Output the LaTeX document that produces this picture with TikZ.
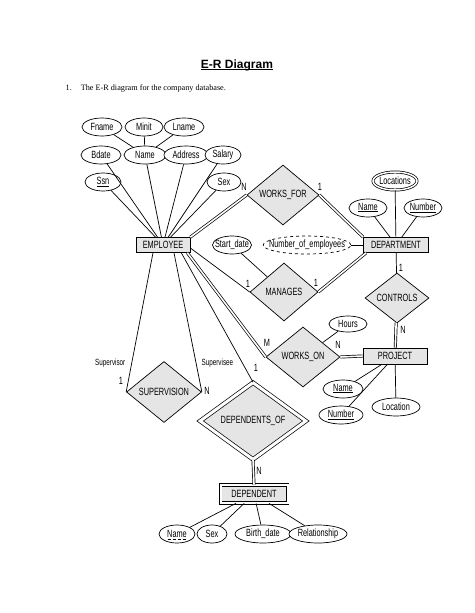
\documentclass[tikz,border=0pt]{standalone}
\usepackage{fontspec}
\setmainfont{Liberation Serif}
\newfontfamily\erfont[FakeStretch=0.7]{Liberation Sans}
\newfontfamily\titlefont{Liberation Sans}
\usetikzlibrary{shapes.geometric}
\definecolor{boxgray}{gray}{0.9}
\newcommand{\keyul}[2][1pt]{\setbox0\hbox{#2}\rlap{\rule[-1.7pt]{\wd0}{#1}}\box0}

\begin{document}
\begin{tikzpicture}[x=1pt,y=-1pt,line width=0.7pt,
  font=\erfont\fontsize{10.5}{12}\selectfont,
  entity/.style={draw,fill=boxgray,rectangle,inner sep=0pt,minimum height=15pt},
  weakentity/.style={entity,double,double distance=2pt},
  relation/.style={draw,fill=boxgray,diamond,inner sep=0pt,aspect=1.2},
  weakrelation/.style={relation,double,double distance=3pt},
  attr/.style={draw,fill=white,ellipse,inner xsep=-7pt,inner ysep=0pt,minimum height=18pt},
  total/.style={double,double distance=1.6pt},
  card/.style={inner sep=0pt}]

\useasboundingbox (0,0) rectangle (474,613);

%%%%%%%%%%%%%%%%%%%%%%%%%%%%%%%%%%%%%%

\node (title) at (237,65) {\titlefont\bfseries\fontsize{12}{14}\selectfont\keyul[1.1pt]{E-R Diagram}};
\node[anchor=west] (intro) at (62,88) {\rmfamily\fontsize{8.2}{10}\selectfont 1.\hspace{9pt}The E-R diagram for the company database.};

%%%%%%%%%%%%%%%%%%%%%%%%%%%%%%%%%%%%%%

\node[entity,minimum width=54pt] (emp) at (163,245) {EMPLOYEE};

\node[attr,minimum width=40pt] (fname) at (102,127) {Fname};
\node[attr,minimum width=38pt] (minit) at (144,127) {Minit};
\node[attr,minimum width=40pt] (lname) at (184,127) {Lname};
\node[attr,minimum width=40pt] (bdate) at (101,155) {Bdate};
\node[attr,minimum width=42pt] (ename) at (145,155) {Name};
\node[attr,minimum width=44pt] (addr) at (186,155) {Address};
\node[attr,minimum width=36pt] (salary) at (223,155) {Salary};
\node[attr,minimum width=36pt] (ssn) at (103,182) {\keyul{Ssn}};
\node[attr,minimum width=34pt] (esex) at (224,182) {Sex};

\draw (fname) -- (ename);
\draw (minit) -- (ename);
\draw (lname) -- (ename);
\draw (bdate) -- (emp);
\draw (ename) -- (emp);
\draw (addr) -- (emp);
\draw (salary) -- (emp);
\draw (ssn) -- (emp);
\draw (esex) -- (emp);

%%%%%%%%%%%%%%%%%%%%%%%%%%%%%%%%%%%%%%

\node[entity,minimum width=65pt] (dept) at (396,245) {DEPARTMENT};

\node[attr,double,double distance=1.5pt,minimum width=44pt] (locs) at (395,181) {Locations};
\node[attr,minimum width=38pt] (dname) at (368,208) {\keyul{Name}};
\node[attr,minimum width=38pt] (dnum) at (423,208) {\keyul{Number}};
\node[attr,dashed,minimum width=87pt] (nemp) at (307,245) {Number\_of\_employees};

\draw (locs) -- (dept);
\draw (dname) -- (dept);
\draw (dnum) -- (dept);
\draw (nemp) -- (dept);

%%%%%%%%%%%%%%%%%%%%%%%%%%%%%%%%%%%%%%

\node[relation,minimum width=72pt,minimum height=60pt] (wf) at (283,195) {WORKS\_FOR};
\draw[total] (emp.north east) -- (wf.west);
\draw[total] (wf.east) -- (dept.north west);
\node[card] (wfn) at (244,187) {N};
\node[card] (wf1) at (320,187) {1};

\node[relation,minimum width=68pt,minimum height=58pt] (man) at (284,292) {MANAGES};
\node[attr,minimum width=39pt] (sdate) at (232,245) {Start\_date};
\draw (sdate) -- (man);
\draw ([yshift=-3pt]emp.east) -- (man.west);
\draw[total] (man.east) -- ([xshift=3pt]dept.south west);
\node[card] (man1) at (248,284) {1};
\node[card] (man2) at (316,283) {1};

%%%%%%%%%%%%%%%%%%%%%%%%%%%%%%%%%%%%%%

\node[entity,minimum width=64pt,minimum height=16pt] (proj) at (395,356) {PROJECT};

\node[relation,minimum width=64pt,minimum height=50pt] (ctl) at (397,298) {CONTROLS};
\draw (dept) -- (ctl);
\draw[total] (ctl) -- (proj);
\node[card] (ctl1) at (401,268) {1};
\node[card] (ctln) at (403,330) {N};

\node[relation,minimum width=74pt,minimum height=60pt] (won) at (303,357) {WORKS\_ON};
\node[attr,minimum width=38pt,minimum height=16pt] (hours) at (348,324) {Hours};
\draw (hours) -- (won);
\draw[total] ([xshift=-3pt]emp.south east) -- (won.west);
\draw[total] (won.east) -- (proj.west);
\node[card] (wonm) at (267,343) {M};
\node[card] (wonn) at (338,345) {N};

\node[attr,minimum width=40pt] (pname) at (343,389) {\keyul{Name}};
\node[attr,minimum width=44pt] (pnum) at (341,415) {\keyul{Number}};
\node[attr,minimum width=48pt] (ploc) at (396,407) {Location};
\draw (proj) -- (pname);
\draw (proj) -- (pnum);
\draw (proj) -- (ploc);

%%%%%%%%%%%%%%%%%%%%%%%%%%%%%%%%%%%%%%

\node[relation,minimum width=75pt,minimum height=61pt] (sup) at (164,392) {SUPERVISION};
\draw ([xshift=-10pt]emp.south) -- (sup.west);
\draw ([xshift=11pt]emp.south) -- (sup.east);
\node[anchor=east,font=\erfont\fontsize{9}{10}\selectfont] (suprole) at (129,363) {Supervisor};
\node[anchor=west,font=\erfont\fontsize{9}{10}\selectfont] (subrole) at (198,363) {Supervisee};
\node[card] (sup1) at (121,381) {1};
\node[card] (supn) at (207,391) {N};

%%%%%%%%%%%%%%%%%%%%%%%%%%%%%%%%%%%%%%

\node[weakrelation,minimum width=106pt,minimum height=77pt] (dof) at (253,421) {DEPENDENTS\_OF};
\node[weakentity,minimum width=67pt,minimum height=18pt] (dep) at (254,494) {DEPENDENT};
\draw ([xshift=-9pt]emp.south east) -- (dof.north);
\draw[total] (dof.south) -- (dep.north);
\node[card] (dof1) at (256,368) {1};
\node[card] (dofn) at (259,471) {N};

\node[attr,minimum width=36pt] (depname) at (177,534) {Name};
\draw[densely dashed,line width=0.7pt] ([shift={(-9.5pt,-5pt)}]depname.center) -- ([shift={(9.5pt,-5pt)}]depname.center);
\node[attr,minimum width=30pt] (depsex) at (212,534) {Sex};
\node[attr,minimum width=56pt] (bdate2) at (263,534) {Birth\_date};
\node[attr,minimum width=58pt] (rel) at (318,534) {Relationship};
\draw (dep) -- (depname);
\draw (dep) -- (depsex);
\draw (dep) -- (bdate2);
\draw (dep) -- (rel);

\end{tikzpicture}
\end{document}
